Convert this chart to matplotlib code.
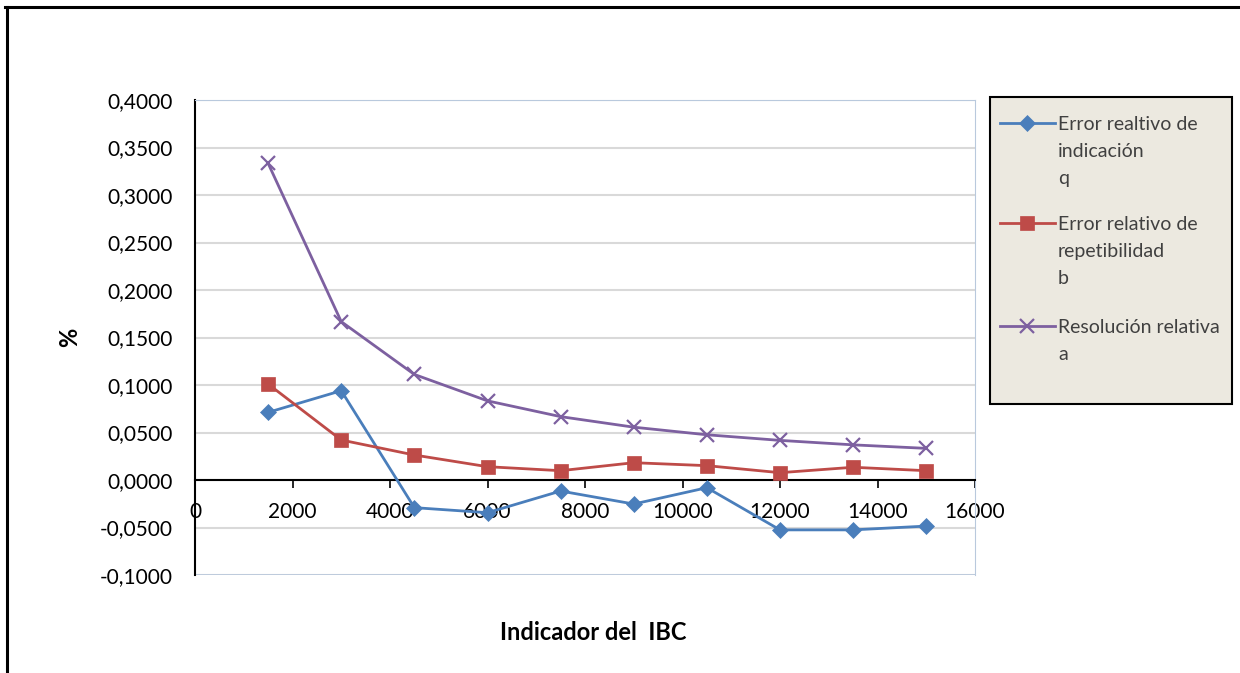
import matplotlib
matplotlib.use("Agg")
import matplotlib.pyplot as plt
from matplotlib.patches import Rectangle
from matplotlib.lines import Line2D
from matplotlib.ticker import FuncFormatter, MultipleLocator

plt.rcParams['font.family'] = ['Lato', 'DejaVu Sans']

# data
ibc = [1500, 3000, 4500, 6000, 7500, 9000, 10500, 12000, 13500, 15000]
err_indicacion = [0.0712, 0.0940, -0.0291, -0.0344, -0.0116, -0.0253, -0.0081, -0.0525, -0.0525, -0.0485]
err_repetibilidad = [0.1010, 0.0421, 0.0263, 0.0140, 0.0098, 0.0182, 0.0151, 0.0077, 0.0134, 0.0098]
resolucion = [0.3333, 0.1667, 0.1111, 0.0833, 0.0667, 0.0556, 0.0476, 0.0417, 0.0370, 0.0333]

labels = ["Error realtivo de\nindicación\nq",
          "Error relativo de\nrepetibilidad\nb",
          "Resolución relativa\na"]
colors = ["#4A7EBB", "#BE4B48", "#7D60A0"]
markers = ["D", "s", "x"]
sizes = [8.5, 10.5, 10]

W, H = 1240, 673
fig = plt.figure(figsize=(W / 100, H / 100), dpi=100)

# outer chart frame (only top and left visible)
fig.add_artist(Line2D([5 / W, 1.01], [1 - 7 / H, 1 - 7 / H], color="black", lw=2.2, transform=fig.transFigure))
fig.add_artist(Line2D([7 / W, 7 / W], [-0.01, 1 - 7 / H], color="black", lw=2.2, transform=fig.transFigure))

ax = fig.add_axes([195 / W, 1 - 575 / H, 780 / W, 475 / H])

series = [err_indicacion, err_repetibilidad, resolucion]
for vals, lab, c, m, s in zip(series, labels, colors, markers, sizes):
    ax.plot(ibc, vals, color=c, lw=2, marker=m, markersize=s, label=lab,
            markeredgewidth=1.6 if m == "x" else 0.5, zorder=3)

ax.set_xlim(0, 16000)
ax.set_ylim(-0.1, 0.4)
ax.yaxis.set_major_locator(MultipleLocator(0.05))
ax.xaxis.set_major_locator(MultipleLocator(2000))
ax.yaxis.set_major_formatter(FuncFormatter(lambda v, p: ("%.4f" % v).replace(".", ",")))
ax.grid(axis="y", color="#D9D9D9", lw=1.5)
ax.set_axisbelow(True)

ax.spines["bottom"].set_position(("data", 0))
ax.spines["bottom"].set_color("black")
ax.spines["bottom"].set_linewidth(1.5)
ax.spines["left"].set_color("black")
ax.spines["left"].set_linewidth(1.5)
ax.spines["top"].set_color("#B9C9DD")
ax.spines["right"].set_color("#B9C9DD")

ax.tick_params(axis="x", direction="out", length=6, width=1.2, labelsize=15, pad=10)
ax.tick_params(axis="y", length=0, labelsize=15, pad=16)

# light bottom border of the plot area
ax.axhline(-0.1, color="#B9C9DD", lw=1.2)

fig.text(70 / W, 1 - 337 / H, "%", rotation=90, fontsize=17, fontweight="bold", ha="center", va="center")
fig.text(593 / W, 1 - 632 / H, "Indicador del  IBC", fontsize=17, fontweight="bold", ha="center", va="center")

# legend box, drawn by hand so the sample line sits on the first text line
fig.add_artist(Rectangle((990 / W, 1 - 404 / H), 242 / W, 307 / H, transform=fig.transFigure,
                         facecolor="#ECE9E0", edgecolor="black", lw=1.5, zorder=1))
entry_y = [123, 223, 326]
for lab, c, m, s, yy in zip(labels, colors, markers, sizes, entry_y):
    yf = 1 - yy / H
    fig.add_artist(Line2D([1000 / W, 1055 / W], [yf, yf], color=c, lw=2, transform=fig.transFigure, zorder=2))
    fig.add_artist(Line2D([1027 / W], [yf], color=c, marker=m, markersize=s,
                          markeredgewidth=1.6 if m == "x" else 0.5, transform=fig.transFigure, zorder=2))
    fig.text(1058 / W, 1 - (yy - 7) / H, lab, fontsize=14, color="#404040", ha="left", va="top",
             linespacing=1.7, zorder=2)

fig.savefig("out.png", dpi=100)
